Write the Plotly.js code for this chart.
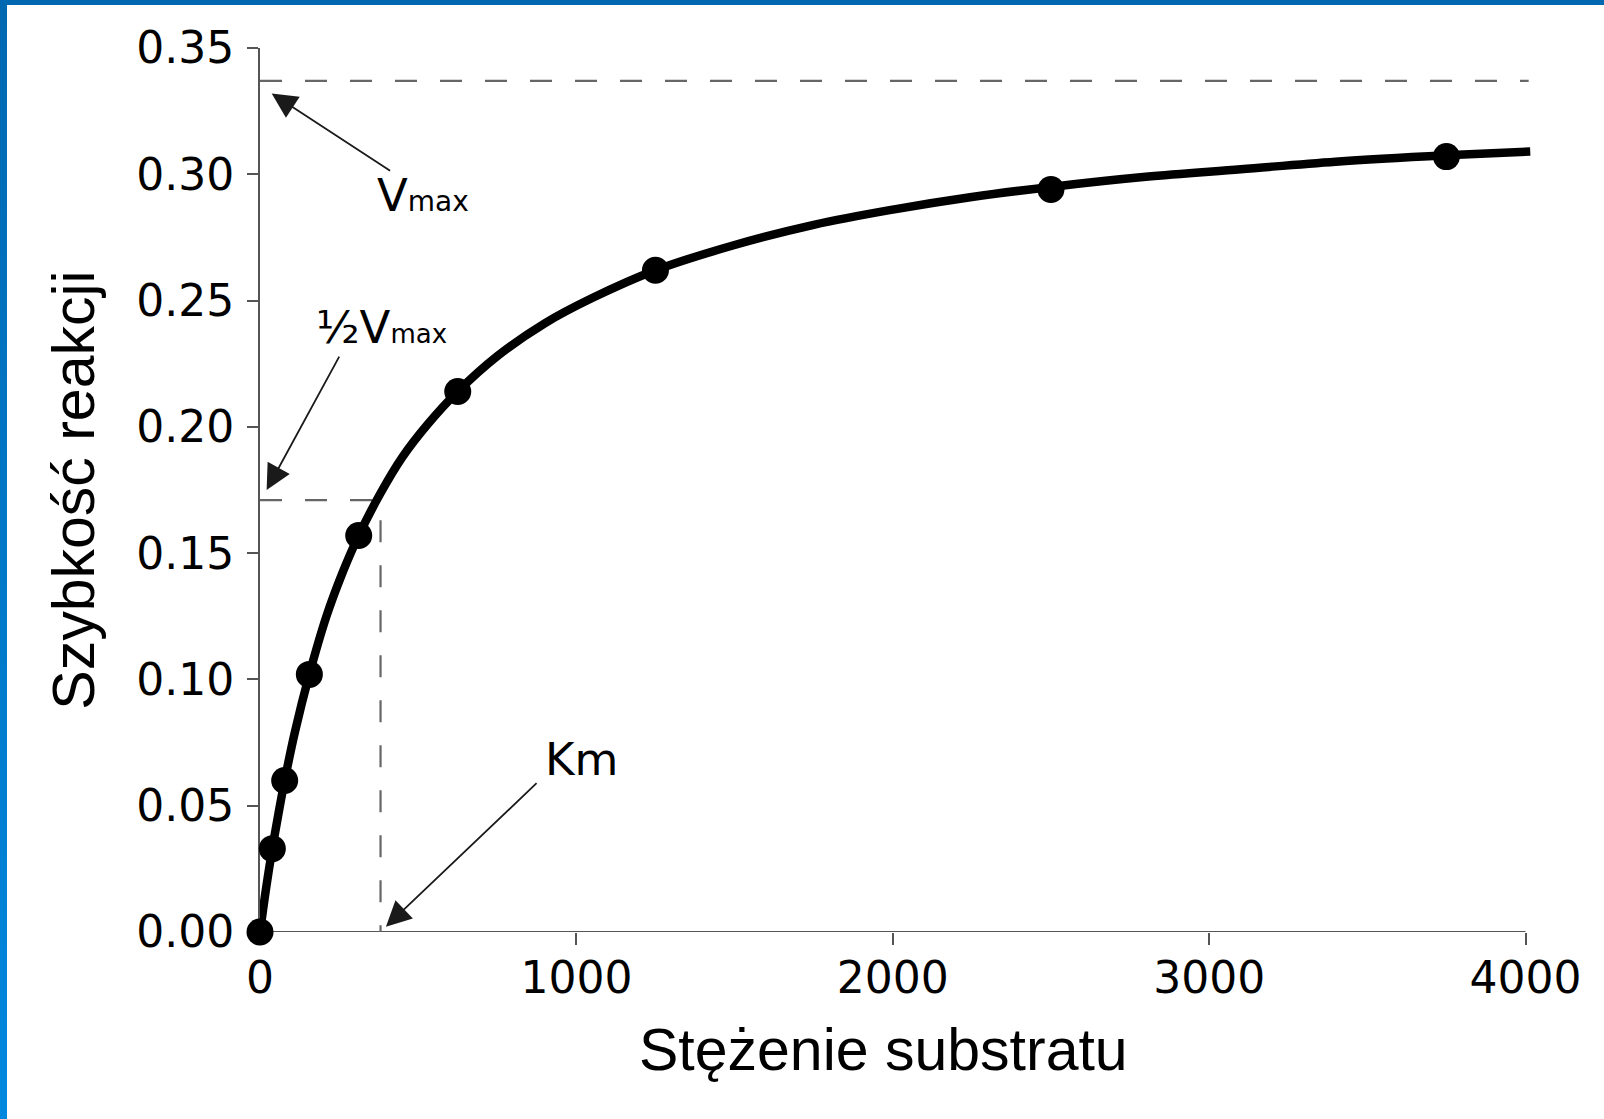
<!DOCTYPE html>
<html>
<head>
<meta charset="utf-8">
<script src="https://cdn.plot.ly/plotly-3.0.1.min.js"></script>
<style>
  html, body { margin: 0; padding: 0; background: #ffffff; }
  #wrap { position: relative; width: 1604px; height: 1119px; overflow: hidden; }
  #chart { position: absolute; left: 0; top: 0; width: 1604px; height: 1119px; }
  #bTop { position: absolute; left: 0; top: 0; width: 1604px; height: 5px; background: #0068b1; z-index: 5; }
  #bLeft { position: absolute; left: 0; top: 0; width: 7px; height: 1119px; z-index: 5;
           background: linear-gradient(to bottom, #0068b1 0%, #0088df 100%); }
</style>
</head>
<body>
<div id="wrap">
  <div id="chart"></div>
  <div id="bTop"></div>
  <div id="bLeft"></div>
</div>
<script>
// Measured data points (substrate concentration, reaction rate)
const substrate = [0, 39, 78, 156, 312, 625, 1250, 2500, 3750];
const rate      = [0, 0.033, 0.060, 0.102, 0.157, 0.214, 0.262, 0.294, 0.307];

// Fitted curve
const curveX = [0, 20, 39, 60, 78, 110, 156, 210, 260, 312, 380, 450, 530, 625, 750, 900, 1050, 1250, 1500, 1750, 2000, 2250, 2500, 2800, 3100, 3400, 3750, 4015];
const curveY = [0, 0.018, 0.033, 0.048, 0.060, 0.079, 0.102, 0.125, 0.142, 0.157, 0.1735, 0.188, 0.201, 0.214, 0.228, 0.241, 0.251, 0.262, 0.272, 0.280, 0.286, 0.291, 0.295, 0.299, 0.302, 0.305, 0.3075, 0.309];

// Reference levels
const vmax = 0.337;
const halfVmax = 0.171;
const km = 381;
const vmaxLineX = [0, 4010];
const halfLineX = [0, 366];
const kmLineY = [0.163, 0];

// Ticks
const xTickVals = [0, 1000, 2000, 3000, 4000];
const xTickText = ['0', '1000', '2000', '3000', '4000'];
const yTickVals = [0, 0.05, 0.10, 0.15, 0.20, 0.25, 0.30, 0.35];
const yTickText = ['0.00', '0.05', '0.10', '0.15', '0.20', '0.25', '0.30', '0.35'];

const xLabel = 'Stężenie substratu';
const yLabel = 'Szybkość reakcji';

const dashGrey = '#666666';
const dashPattern = '22px,23px';
const spineGrey = '#555555';

const traces = [
  { x: vmaxLineX, y: [vmax, vmax], mode: 'lines', line: { color: dashGrey, width: 2.2, dash: dashPattern }, hoverinfo: 'skip', showlegend: false },
  { x: halfLineX, y: [halfVmax, halfVmax], mode: 'lines', line: { color: dashGrey, width: 2.2, dash: dashPattern }, hoverinfo: 'skip', showlegend: false },
  { x: [km, km], y: kmLineY, mode: 'lines', line: { color: dashGrey, width: 2.2, dash: dashPattern }, hoverinfo: 'skip', showlegend: false },
  { x: curveX, y: curveY, mode: 'lines', line: { color: '#000000', width: 8.5, shape: 'spline', smoothing: 1 }, cliponaxis: false, showlegend: false },
  { x: substrate, y: rate, mode: 'markers', marker: { color: '#000000', size: 27 }, cliponaxis: false, showlegend: false }
];

const annFont = { family: 'DejaVu Sans', size: 45, color: '#000000' };
const arrowCol = '#1a1a1a';

const layout = {
  width: 1604, height: 1119,
  paper_bgcolor: '#ffffff', plot_bgcolor: '#ffffff',
  margin: { l: 260, r: 68.5, t: 48, b: 187, pad: 0 },
  showlegend: false,
  xaxis: {
    range: [0, 4030], showgrid: false, zeroline: false, showline: false,
    tickmode: 'array', tickvals: xTickVals, ticktext: xTickText,
    ticks: 'outside', ticklen: 12, tickwidth: 2, tickcolor: spineGrey,
    ticklabelstandoff: -5,
    tickfont: { family: 'DejaVu Sans', size: 44, color: '#000000' },
    layer: 'below traces'
  },
  yaxis: {
    range: [0, 0.35], showgrid: false, zeroline: false,
    showline: true, linecolor: spineGrey, linewidth: 2,
    tickmode: 'array', tickvals: yTickVals, ticktext: yTickText,
    ticks: 'outside', ticklen: 11, tickwidth: 2, tickcolor: spineGrey,
    ticklabelstandoff: 4,
    tickfont: { family: 'DejaVu Sans', size: 44, color: '#000000' },
    layer: 'below traces',
    title: { text: yLabel, font: { family: 'Liberation Sans', size: 59, color: '#000000' }, standoff: 23 }
  },
  shapes: [
    { type: 'line', xref: 'x', yref: 'y', x0: 0, x1: 4000, y0: 0, y1: 0, layer: 'below',
      line: { color: spineGrey, width: 2 } }
  ],
  annotations: [
    { xref: 'paper', yref: 'paper', x: 0.4892, y: -0.133, xanchor: 'center', yanchor: 'middle', showarrow: false,
      text: xLabel, font: { family: 'Liberation Sans', size: 59, color: '#000000' } },
    { xref: 'x', yref: 'y', axref: 'x', ayref: 'y', x: 37, y: 0.332, ax: 416, ay: 0.301, text: '',
      showarrow: true, arrowhead: 2, arrowsize: 2.8, arrowwidth: 1.8, arrowcolor: arrowCol },
    { xref: 'x', yref: 'y', axref: 'x', ayref: 'y', x: 21, y: 0.175, ax: 253, ay: 0.2284, text: '',
      showarrow: true, arrowhead: 2, arrowsize: 2.8, arrowwidth: 1.8, arrowcolor: arrowCol },
    { xref: 'x', yref: 'y', axref: 'x', ayref: 'y', x: 398, y: 0.0021, ax: 879, ay: 0.0595, text: '',
      showarrow: true, arrowhead: 2, arrowsize: 2.8, arrowwidth: 1.8, arrowcolor: arrowCol },
    { xref: 'x', yref: 'y', x: 364, y: 0.2916, xanchor: 'left', yanchor: 'middle', showarrow: false,
      text: 'V<span style="font-size:28px">max</span>', font: annFont },
    { xref: 'x', yref: 'y', x: 172, y: 0.2393, xanchor: 'left', yanchor: 'middle', showarrow: false,
      text: '½V<span style="font-size:26px">max</span>', font: annFont },
    { xref: 'x', yref: 'y', x: 893, y: 0.0683, xanchor: 'left', yanchor: 'middle', showarrow: false,
      text: 'Km', font: annFont }
  ]
};

Plotly.newPlot('chart', traces, layout, { staticPlot: true, displayModeBar: false });
</script>
</body>
</html>
